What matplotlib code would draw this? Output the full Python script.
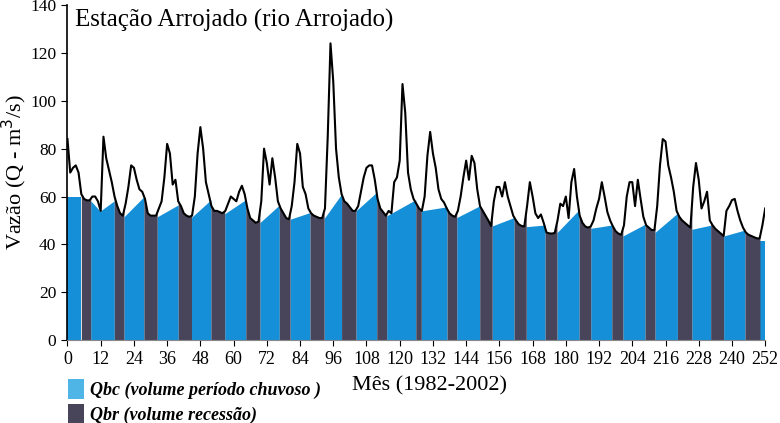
import matplotlib

matplotlib.use("Agg")
import matplotlib.pyplot as plt
import numpy as np
from matplotlib.patches import Patch

# monthly discharge, months 0..252 (1982-2002)
vazao = [
    84, 70, 72, 73, 70, 61, 59, 58.4, 58.4, 60, 60, 58,
    54, 85, 76, 71, 66, 60, 56, 53, 52, 57, 64, 73,
    72, 67, 63, 62, 59, 53, 52, 52, 52, 55, 58, 68,
    82, 78, 65, 67, 58, 56, 53, 52, 51.5, 52, 60, 78,
    89, 80, 66, 61, 56, 54, 54, 53.5, 53, 54, 57, 60,
    59, 58, 62, 64.5, 61, 55, 51, 50, 49, 49.5, 58, 80,
    74, 65, 76, 68, 58, 55, 53, 51, 50.5, 56, 66, 82,
    78, 64, 61, 55, 53, 52, 51.5, 51, 51, 55, 85, 124,
    108, 80, 68, 61, 58, 57, 55.5, 54, 54, 56, 62, 68,
    72, 73, 73, 67, 59, 55, 53.5, 52, 54, 53, 66, 68,
    75, 107, 95, 70, 63, 59, 57, 55, 54, 60, 77, 87,
    78, 72, 63, 59, 57.5, 55, 53, 52, 51.5, 54, 60, 68,
    75, 67, 77, 74, 63, 56, 54, 52, 50, 47.7, 58, 64,
    64, 60, 66, 60, 56, 52, 50, 48.4, 47.7, 47.5, 56, 66,
    60, 53, 51, 52.5, 49, 45, 44.6, 44.5, 44.8, 50, 57, 56,
    60, 51, 66, 71.5, 60, 52, 49, 47.5, 47, 47.5, 50, 55,
    59, 66, 60, 53.5, 50, 47.5, 45.5, 44.5, 44, 48, 60, 66,
    66, 56, 67, 59, 51.5, 48, 47, 46, 46, 56, 73, 84,
    83, 73, 68, 62, 54, 51.5, 50, 49, 48, 47, 64, 74,
    67, 55, 58, 62, 50, 48, 46.5, 45.5, 44.5, 43.5, 54, 56,
    58.5, 59, 54, 50, 47, 45, 44, 43.5, 43, 42.5, 42.5, 48,
    55,
]
meses = np.arange(len(vazao))

# baseflow lines of the wet periods (month, Q); recession fills between them
qbc_trechos = [
    [(0, 60), (5, 60)],
    [(8.4, 58.2), (11.8, 53.9), (16.9, 58.2)],
    [(20.4, 51.5), (27.6, 59.9)],
    [(32.4, 51.5), (40.0, 56.5)],
    [(44.8, 51.3), (51.8, 58.6)],
    [(56.8, 52.8), (64.4, 58.7)],
    [(69.5, 49.1), (76.5, 56.4)],
    [(80.4, 50.5), (87.6, 53.3)],
    [(92.7, 50.8), (99.0, 61.0)],
    [(104.2, 54.0), (111.7, 61.8)],
    [(115.3, 51.9), (125.8, 58.7)],
    [(127.8, 54.0), (137.1, 55.7)],
    [(140.6, 51.2), (148.9, 56.1)],
    [(153.4, 47.7), (161.3, 51.2)],
    [(165.7, 47.4), (172.5, 48.1)],
    [(176.8, 44.9), (184.8, 54.5)],
    [(189.0, 46.7), (196.6, 48.1)],
    [(200.6, 43.5), (208.6, 48.4)],
    [(212.2, 45.0), (220.3, 53.0)],
    [(225.5, 46.3), (232.3, 48.0)],
    [(237.0, 43.5), (244.7, 46.0)],
    [(250.1, 41.3), (252, 41.3)],
]

x_ticks = list(range(0, 253, 12))
cor_qbc = "#1590d8"
cor_qbr = "#48445a"

plt.rcParams["font.family"] = ["Liberation Serif", "DejaVu Serif"]

fig = plt.figure(figsize=(7.8, 4.23), dpi=100)
ax = fig.add_axes([0.0865, 0.196, 0.8945, 0.792])

# blue: area under the baseflow line
for trecho in qbc_trechos:
    xs = [p[0] for p in trecho]
    ys = [p[1] for p in trecho]
    ax.fill_between(xs, 0, ys, color=cor_qbc, linewidth=0)

# dark: recession, area under the hydrograph between wet periods
for a, b in zip(qbc_trechos[:-1], qbc_trechos[1:]):
    x0, x1 = a[-1][0], b[0][0]
    xx = np.linspace(x0, x1, 60)
    ax.fill_between(xx, 0, np.interp(xx, meses, vazao), color=cor_qbr, linewidth=0)

ax.plot(meses, vazao, color="black", lw=1.5)

ax.set_xlim(0, 252)
ax.set_ylim(0, 140)
ax.set_xticks(x_ticks)
ax.set_yticks(range(0, 141, 20))
ax.tick_params(labelsize=13, length=4, direction="out", pad=4)
ax.tick_params(axis="y", labelsize=12.5)
for s in ("top", "right"):
    ax.spines[s].set_visible(False)
ax.spines["left"].set_linewidth(1.2)
ax.spines["bottom"].set_color("#888888")

ax.set_ylabel("Vazão (Q - m$^3$/s)", fontsize=16, va="center")
ax.yaxis.set_label_coords(-0.076, 0.5)
ax.text(0.011, 0.99, "Estação Arrojado (rio Arrojado)", transform=ax.transAxes,
        fontsize=18, va="top", ha="left")
fig.text(0.551, 0.088, "Mês (1982-2002)", fontsize=16, ha="center", va="center")

handles = [
    Patch(facecolor="#4fb4e6", edgecolor="none", label="Qbc (volume período chuvoso )"),
    Patch(facecolor=cor_qbr, edgecolor="none", label="Qbr (volume recessão)"),
]
fig.legend(handles=handles, loc="upper left", bbox_to_anchor=(0.078, 0.12),
           frameon=False, handlelength=0.9, handleheight=1.3, handletextpad=0.3,
           labelspacing=0.25, borderaxespad=0,
           prop={"family": "Liberation Serif", "style": "italic", "weight": "bold", "size": 13})

fig.savefig("out.png", dpi=100)
